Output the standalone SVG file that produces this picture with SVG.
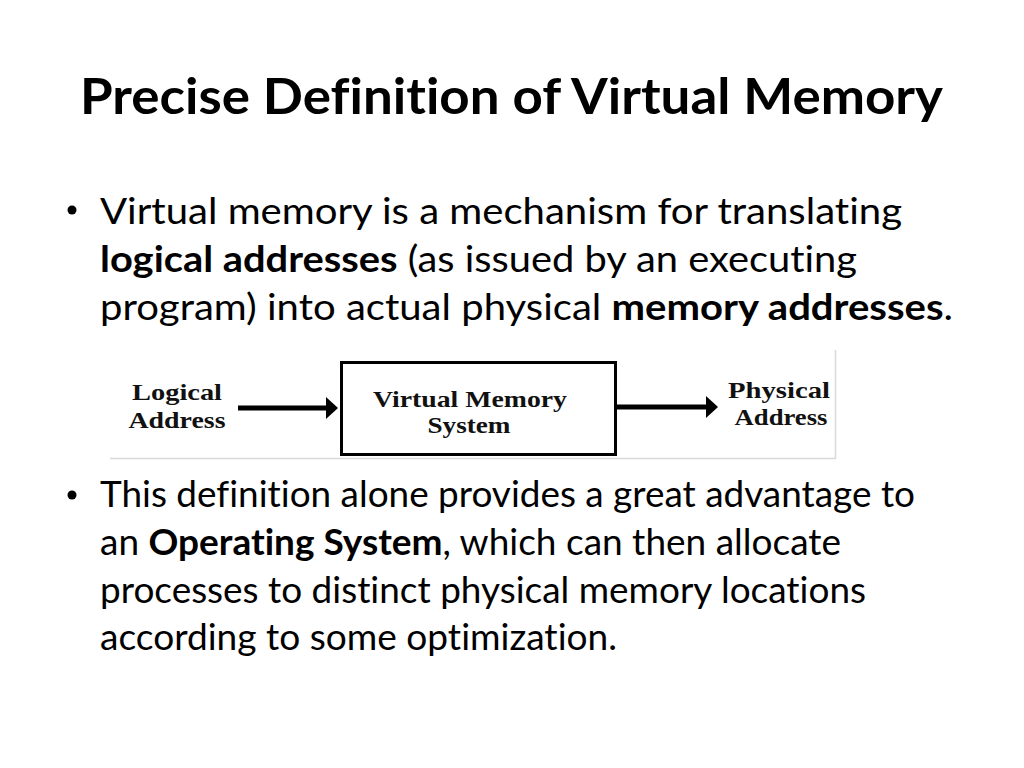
<svg xmlns="http://www.w3.org/2000/svg" width="1024" height="768" viewBox="0 0 1024 768">
<defs>
<style>
text{font-variant-ligatures:none;font-feature-settings:"liga" 0,"dlig" 0}
.title{font-family:Lato,"Liberation Sans",sans-serif;font-weight:bold;font-size:49px;fill:#000}
.body{font-family:Lato,"Liberation Sans",sans-serif;font-size:36px;fill:#000}
.b{font-weight:bold}
.lbl{font-family:"Liberation Serif","Times New Roman",serif;font-weight:bold;font-size:24px;fill:#111;text-anchor:middle}
.conn{stroke:#000;stroke-width:5;fill:none}
.frame{stroke:#d9d9d9;stroke-width:1.5;fill:none}
</style>
<marker id="ah" markerUnits="userSpaceOnUse" markerWidth="12" markerHeight="22" refX="2" refY="11" orient="auto">
<path d="M0,0 L12,11 L0,22 Z" fill="#000"/>
</marker>
</defs>
<rect width="1024" height="768" fill="#fff"/>

<g id="title">
<text class="title" x="80" y="114" textLength="863" lengthAdjust="spacingAndGlyphs">Precise Definition of Virtual Memory</text>
</g>

<g id="bullet1">
<circle cx="72" cy="210" r="4.5" fill="#000"/>
<text class="body" x="100" y="224" textLength="802" lengthAdjust="spacingAndGlyphs">Virtual memory is a mechanism for translating</text>
<text class="body" x="100" y="272" textLength="757" lengthAdjust="spacingAndGlyphs"><tspan class="b">logical addresses</tspan> (as issued by an executing</text>
<text class="body" x="100" y="320" textLength="853" lengthAdjust="spacingAndGlyphs">program) into actual physical <tspan class="b">memory addresses</tspan>.</text>
</g>

<g id="diagram-frame">
<path class="frame" d="M110,458.5 H835.5 V350"/>
</g>

<g id="node-logical">
<text class="lbl" x="177" y="400" textLength="90" lengthAdjust="spacingAndGlyphs">Logical</text>
<text class="lbl" x="177" y="428" textLength="97" lengthAdjust="spacingAndGlyphs">Address</text>
</g>

<g id="node-vms">
<rect x="341.5" y="362.5" width="274" height="92" fill="none" stroke="#000" stroke-width="3"/>
<text class="lbl" x="470" y="407" textLength="194" lengthAdjust="spacingAndGlyphs">Virtual Memory</text>
<text class="lbl" x="469" y="433" textLength="83" lengthAdjust="spacingAndGlyphs">System</text>
</g>

<g id="node-physical">
<text class="lbl" x="779" y="398" textLength="102" lengthAdjust="spacingAndGlyphs">Physical</text>
<text class="lbl" x="781" y="425" textLength="93" lengthAdjust="spacingAndGlyphs">Address</text>
</g>

<g id="connectors">
<line class="conn" x1="238" y1="408" x2="328" y2="408" marker-end="url(#ah)"/>
<line class="conn" x1="617" y1="407" x2="708" y2="407" marker-end="url(#ah)"/>
</g>

<g id="bullet2">
<circle cx="72" cy="495" r="4.5" fill="#000"/>
<text class="body" x="100" y="507" textLength="815" lengthAdjust="spacingAndGlyphs">This definition alone provides a great advantage to</text>
<text class="body" x="100" y="555" textLength="741" lengthAdjust="spacingAndGlyphs">an <tspan class="b">Operating System</tspan>, which can then allocate</text>
<text class="body" x="100" y="603" textLength="766" lengthAdjust="spacingAndGlyphs">processes to distinct physical memory locations</text>
<text class="body" x="100" y="650" textLength="517" lengthAdjust="spacingAndGlyphs">according to some optimization.</text>
</g>
</svg>
